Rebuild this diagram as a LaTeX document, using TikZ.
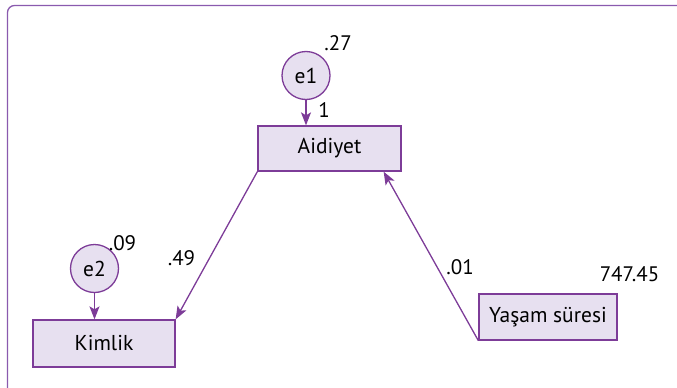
\documentclass[tikz,border=0pt]{standalone}
\usepackage{fontspec}
\setmainfont{PT Sans}
\usetikzlibrary{arrows.meta,calc}
\definecolor{pstroke}{HTML}{7D3C98}
\definecolor{pfill}{HTML}{E7E0F0}
\definecolor{pframe}{HTML}{8A5AAE}
\tikzset{
  box/.style={draw=pstroke, fill=pfill, line width=1.3pt, inner sep=0pt, font=\fontsize{21.5}{23}\selectfont},
  errc/.style={circle, draw=pstroke, fill=pfill, line width=1.3pt, minimum size=48pt, inner sep=0pt, font=\fontsize{21.5}{23}\selectfont},
  lbl/.style={inner sep=0pt, font=\fontsize{21}{23}\selectfont},
  arr/.style={draw=pstroke, line width=1.3pt, -{Stealth[length=13pt,width=10pt,inset=3pt]}},
}
\begin{document}
\begin{tikzpicture}[x=1pt,y=-1pt]
\useasboundingbox (0,0) rectangle (677,388);
\draw[pframe, line width=1.3pt, rounded corners=7pt] (7.5,390) -- (7.5,5.5) -- (680,5.5);
% boxes
\node[box, minimum width=143pt, minimum height=45pt] (aid) at (329.5,148.5) {Aidiyet};
\node[box, minimum width=142pt, minimum height=47pt] (kim) at (104,343.5) {Kimlik};
\node[box, minimum width=138pt, minimum height=46pt] (yas) at (548,317) {Yaşam süresi};
% error circles
\node[errc] (e1) at (306,75.5) {e1};
\node[errc] (e2) at (94.5,268.5) {e2};
% arrows
\draw[arr] (e1.south) -- (e1.south |- aid.north);
\draw[arr] (e2.south) -- (e2.south |- kim.north);
\draw[arr] (aid.south west) -- (kim.north east);
\coordinate (aidin) at ($(aid.south east)+(-18,0)$);
\draw[arr] (yas.south west) -- (aidin);
% labels
\node[lbl] (l27) at (338,43) {.27};
\node[lbl] (l1) at (324,110) {1};
\node[lbl] (l09) at (122.5,243.5) {.09};
\node[lbl] (l49) at (181.5,258) {.49};
\node[lbl] (l01) at (460,267) {.01};
\node[lbl] (l747) at (629.5,274) {747.45};
\end{tikzpicture}
\end{document}
